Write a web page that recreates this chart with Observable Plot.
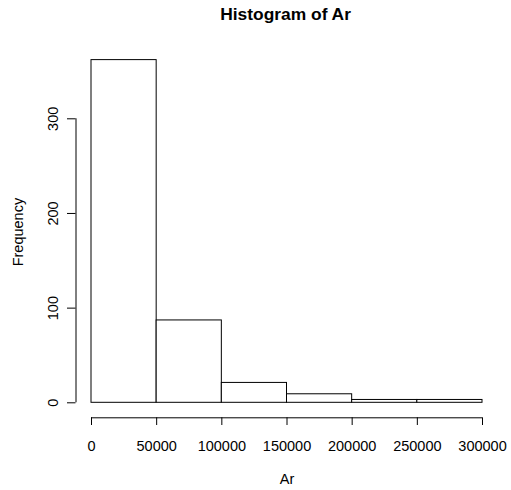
<!DOCTYPE html>
<html>
<head>
<meta charset="utf-8">
<script src="https://cdn.jsdelivr.net/npm/d3@7"></script>
<script src="https://cdn.jsdelivr.net/npm/@observablehq/plot@0.6"></script>
<style>
  html, body { margin: 0; padding: 0; background: #fff; }
</style>
</head>
<body>
<div id="chart"></div>
<script>
const breaks = [0, 50000, 100000, 150000, 200000, 250000, 300000];
const counts = [362, 87, 21, 9, 3, 3];
const xTicks = [0, 50000, 100000, 150000, 200000, 250000, 300000];
const yTicks = [0, 100, 200, 300];
const title = "Histogram of Ar";
const xLabel = "Ar";
const yLabel = "Frequency";

const bins = counts.map((c, i) => ({x1: breaks[i], x2: breaks[i + 1], count: c}));

const chart = Plot.plot({
  width: 511,
  height: 490,
  marginLeft: 75.5,
  marginRight: 13.4,
  marginTop: 45.9,
  marginBottom: 72.7,
  style: {fontFamily: "'Liberation Sans', Arial, Helvetica, sans-serif", fontSize: "14.5px", background: "#fff", color: "#000"},
  x: {domain: [0, 300000], range: [91, 482]},
  y: {domain: [0, 300], range: [402.3, 118.3]},
  marks: [
    Plot.rectY(bins, {x1: "x1", x2: "x2", y: "count", fill: "white", stroke: "black", strokeWidth: 1}),
    Plot.ruleY([0], {x1: breaks[0], x2: breaks[breaks.length - 1], dy: 15, stroke: "black"}),
    Plot.ruleX([0], {y1: yTicks[0], y2: yTicks[yTicks.length - 1], dx: -15.5, stroke: "black"}),
    Plot.axisX(xTicks, {anchor: "bottom", tickSize: 7.7, tickPadding: 15, tickFormat: d => String(d), label: null, stroke: "black"}),
    Plot.axisY(yTicks, {anchor: "left", tickSize: 8.5, tickPadding: 9.7, tickRotate: -90, tickFormat: d => String(d), label: null, stroke: "black"}),
    Plot.text([yLabel], {frameAnchor: "left", rotate: -90, dx: -52.8, textAnchor: "middle", lineAnchor: "bottom", fill: "black"}),
    Plot.text([xLabel], {frameAnchor: "bottom", dy: 65.7, textAnchor: "middle", lineAnchor: "bottom", fill: "black"}),
    Plot.text([title], {frameAnchor: "top", dy: -26.4, dx: -1.5, textAnchor: "middle", lineAnchor: "bottom", fontWeight: "bold", fontSize: 17.4, fill: "black"})
  ]
});
document.getElementById("chart").appendChild(chart);
</script>
</body>
</html>
